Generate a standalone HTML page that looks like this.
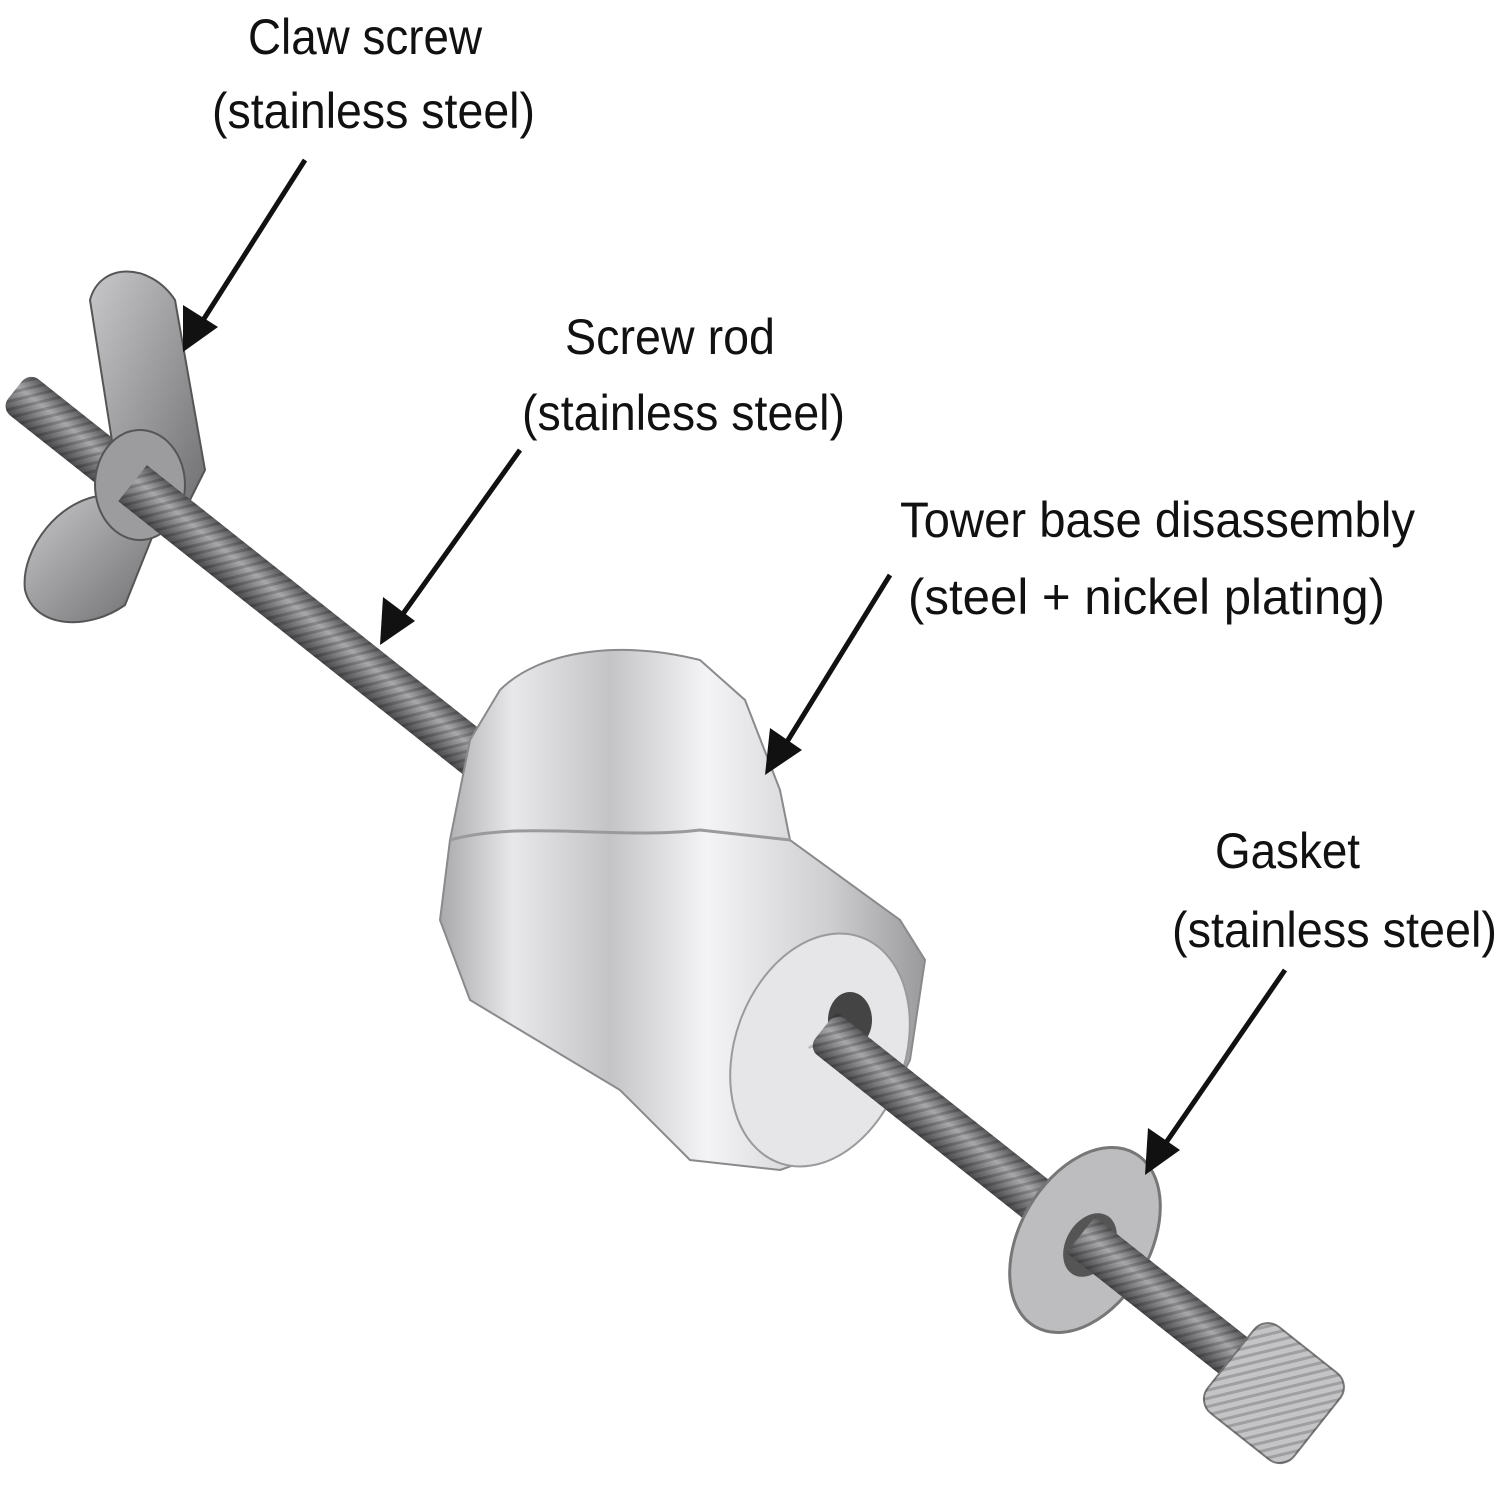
<!DOCTYPE html>
<html><head><meta charset="utf-8"><style>
html,body{margin:0;padding:0;background:#fff;}
svg{display:block;}
text{font-family:"Liberation Sans",sans-serif;font-size:50px;fill:#111;}
</style></head><body>
<svg width="1500" height="1500" viewBox="0 0 1500 1500">
<defs>
<linearGradient id="rod" x1="0" y1="0" x2="0" y2="1">
<stop offset="0" stop-color="#5a5a5c"/><stop offset="0.4" stop-color="#a8a8aa"/><stop offset="1" stop-color="#4a4a4c"/></linearGradient>
<linearGradient id="cyl" x1="0" y1="0" x2="1" y2="0">
<stop offset="0" stop-color="#a9a9ab"/><stop offset="0.15" stop-color="#e8e8ea"/><stop offset="0.35" stop-color="#c4c4c6"/><stop offset="0.55" stop-color="#f4f4f6"/><stop offset="0.8" stop-color="#cfcfd1"/><stop offset="1" stop-color="#9a9a9c"/></linearGradient>
<linearGradient id="wing" x1="0" y1="0" x2="1" y2="1">
<stop offset="0" stop-color="#c8c8ca"/><stop offset="1" stop-color="#6e6e70"/></linearGradient>
<pattern id="thr" width="8" height="8" patternUnits="userSpaceOnUse" patternTransform="rotate(38)">
<rect width="8" height="8" fill="none"/><rect width="3" height="8" fill="#00000030"/></pattern>
</defs>
<!-- rod -->
<g transform="translate(15,390) rotate(38.4)">
<rect x="0" y="-23" width="1660" height="46" rx="12" fill="url(#rod)"/>
<rect x="0" y="-23" width="1660" height="46" rx="12" fill="url(#thr)"/>
</g>
<!-- wing nut -->
<path d="M90,300 C100,262 150,262 175,300 L205,470 L185,510 L140,520 L115,460 Z" fill="url(#wing)" stroke="#555" stroke-width="2"/>
<path d="M110,495 C60,495 20,550 25,590 C35,630 90,630 125,605 L155,530 Z" fill="url(#wing)" stroke="#555" stroke-width="2"/>
<ellipse cx="140" cy="485" rx="45" ry="55" fill="#9c9c9e" stroke="#555" stroke-width="2"/>
<g transform="translate(15,390) rotate(38.4)">
<rect x="150" y="-23" width="200" height="46" fill="url(#rod)"/>
<rect x="150" y="-23" width="200" height="46" fill="url(#thr)"/>
</g>
<!-- cylinder -->
<path d="M470,740 L500,690 C540,650 620,640 700,660 L745,700 L780,790 L790,840 L900,920 L925,960 L910,1060 C880,1120 840,1150 780,1170 L690,1160 L620,1090 L470,1000 L440,920 L450,840 Z" fill="url(#cyl)" stroke="#8a8a8c" stroke-width="2"/>
<path d="M450,840 C520,820 620,840 700,830 L790,840" fill="none" stroke="#9a9a9c" stroke-width="3"/>
<ellipse cx="820" cy="1050" rx="85" ry="120" transform="rotate(20 820 1050)" fill="#e6e6e8" stroke="#9a9a9c" stroke-width="2"/>
<ellipse cx="850" cy="1020" rx="22" ry="28" fill="#444"/>
<g transform="translate(15,390) rotate(38.4)">
<rect x="1030" y="-23" width="630" height="46" rx="12" fill="url(#rod)"/>
<rect x="1030" y="-23" width="630" height="46" fill="url(#thr)"/>
</g>
<!-- washer -->
<ellipse cx="1085" cy="1240" rx="65" ry="100" transform="rotate(30 1085 1240)" fill="#bdbdbf" stroke="#777" stroke-width="3"/>
<ellipse cx="1090" cy="1245" rx="24" ry="34" transform="rotate(30 1090 1245)" fill="#555"/>
<g transform="translate(15,390) rotate(38.4)">
<rect x="1360" y="-23" width="220" height="46" fill="url(#rod)"/>
<rect x="1360" y="-23" width="220" height="46" fill="url(#thr)"/>
</g>
<!-- bolt head -->
<g transform="translate(1270,1390) rotate(38.4)">
<rect x="-50" y="-55" width="110" height="110" rx="18" fill="#c4c4c6" stroke="#777" stroke-width="2"/>
<rect x="-50" y="-55" width="110" height="110" rx="18" fill="url(#thr)"/>
</g>
<!-- arrows -->
<g stroke="#111" stroke-width="5">
<line x1="305" y1="160" x2="200" y2="325"/>
<line x1="520" y1="450" x2="400" y2="618"/>
<line x1="890" y1="575" x2="785" y2="745"/>
<line x1="1285" y1="970" x2="1163" y2="1147"/>
</g>
<g fill="#111">
<polygon points="183,352 183,305 218,327"/>
<polygon points="380,645 383,597 415,621"/>
<polygon points="765,775 770,728 802,750"/>
<polygon points="1145,1175 1148,1128 1180,1150"/>
</g>
<!-- labels -->
<text x="248" y="54" textLength="234" lengthAdjust="spacingAndGlyphs">Claw screw</text>
<text x="212" y="128" textLength="323" lengthAdjust="spacingAndGlyphs">(stainless steel)</text>
<text x="565" y="354" textLength="210" lengthAdjust="spacingAndGlyphs">Screw rod</text>
<text x="522" y="430" textLength="323" lengthAdjust="spacingAndGlyphs">(stainless steel)</text>
<text x="900" y="537" textLength="515" lengthAdjust="spacingAndGlyphs">Tower base disassembly</text>
<text x="908" y="614" textLength="477" lengthAdjust="spacingAndGlyphs">(steel + nickel plating)</text>
<text x="1215" y="868" textLength="145" lengthAdjust="spacingAndGlyphs">Gasket</text>
<text x="1172" y="947" textLength="325" lengthAdjust="spacingAndGlyphs">(stainless steel)</text>
</svg>
</body></html>
